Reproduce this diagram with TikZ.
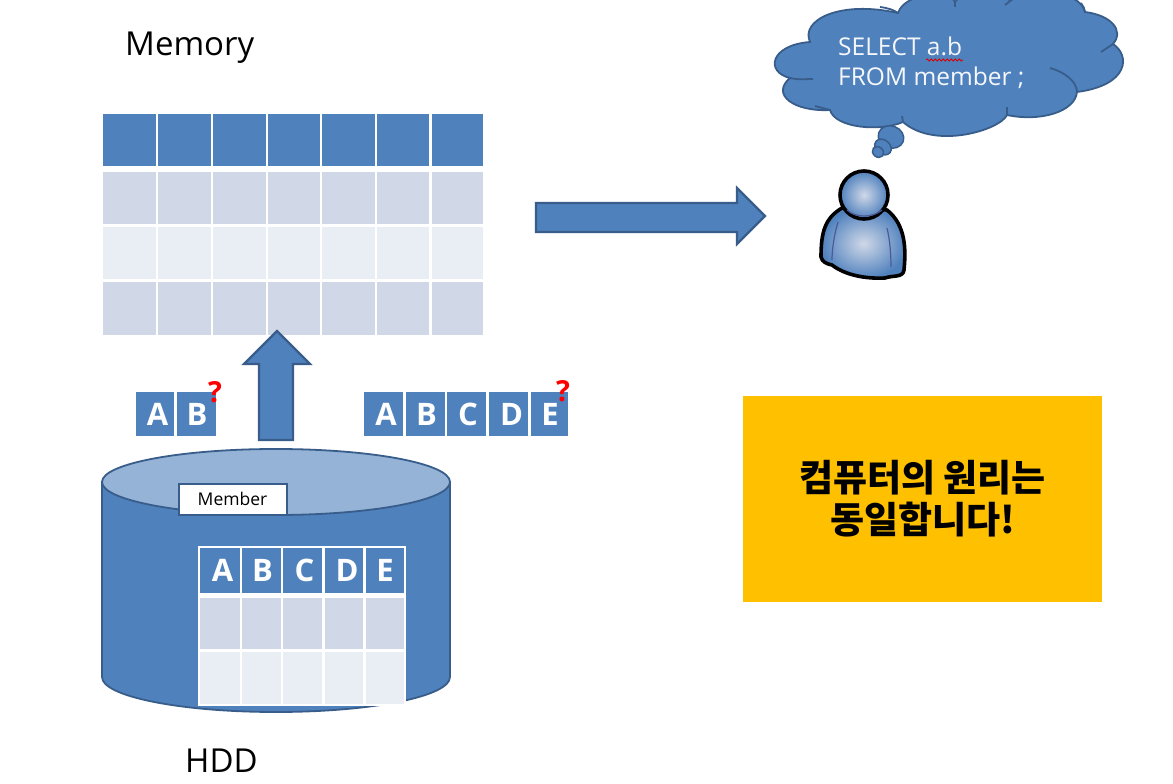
\documentclass[tikz,border=0pt]{standalone}
\usepackage{fontspec}
\setmainfont{Open Sans}
\newfontfamily\krfont{Noto Sans CJK KR}
\usetikzlibrary{decorations.pathmorphing}
\definecolor{hdr}{HTML}{4F81BD}
\definecolor{rowa}{HTML}{D0D8E8}
\definecolor{rowb}{HTML}{E9EDF4}
\definecolor{edgeblue}{HTML}{385D8A}
\definecolor{toplid}{HTML}{95B3D7}
\definecolor{gold}{HTML}{FFC000}
\definecolor{seam}{HTML}{4A5A9A}
\tikzset{
  gridcell/.style={inner sep=0pt,outer sep=0pt,font=\fontsize{31}{32}\selectfont\bfseries,text=white},
  blockarrow/.style={fill=hdr,draw=edgeblue,line width=2.2pt,line join=miter},
  puzzled/.style={inner sep=0pt,text=red,font=\fontsize{29}{29}\selectfont\bfseries},
  caption/.style={inner sep=0pt,anchor=base west,text=black,font=\fontsize{33}{33}\selectfont},
  fold/.style={draw=edgeblue,line width=1.8pt},
  inkline/.style={draw=black,line width=3.6pt,line join=round},
  seamline/.style={draw=seam,line width=1.2pt}
}
% name, colour, x1, x2, y1, y2, text
\newcommand{\gcell}[7]{\node[gridcell,fill=#2,minimum width={(#4-#3)*1pt},minimum height={(#6-#5)*1pt}] (#1) at ({(#3+#4)/2},{(#5+#6)/2}) {#7};}
\newcommand{\clab}[2]{\raisebox{-1.5pt}{\kern#1pt #2}}
\begin{document}
\begin{tikzpicture}[x=1pt,y=-1pt]
\useasboundingbox (0,0) rectangle (1173,784);
\fill[white] (0,0) rectangle (1173,784);

% memory table
\foreach \cname/\xa/\xb in {a/103/156,b/158/211,c/213/266,d/268/320,e/322/375,f/377/429,g/432/483}{
  \gcell{m1\cname}{hdr}{\xa}{\xb}{114}{166}{}
  \gcell{m2\cname}{rowa}{\xa}{\xb}{172}{224}{}
  \gcell{m3\cname}{rowb}{\xa}{\xb}{227}{279}{}
  \gcell{m4\cname}{rowa}{\xa}{\xb}{282}{335}{}
}
\node[caption] (memlabel) at (125,56) {Memory};

% block arrows
\draw[blockarrow] (536,203) -- (737,203) -- (737,188) -- (765,216) -- (737,244) -- (737,232) -- (536,232) -- cycle;
\draw[blockarrow] (259,440) -- (259,364) -- (244,364) -- (277,331) -- (310,364) -- (293,364) -- (293,440) -- cycle;

% floating columns
\gcell{pa}{hdr}{136}{174}{392}{436}{\clab{5}{A}}
\gcell{pb}{hdr}{177}{216}{392}{436}{\clab{1}{B}}
\gcell{qa}{hdr}{364}{403}{392}{436}{\clab{5}{A}}
\gcell{qb}{hdr}{406}{445}{392}{436}{\clab{2}{B}}
\gcell{qc}{hdr}{447}{486}{392}{436}{\clab{3}{C}}
\gcell{qd}{hdr}{489}{528}{392}{436}{\clab{6}{D}}
\gcell{qe}{hdr}{531}{568}{392}{436}{\clab{1}{E}}
\node[puzzled] (qm1) at (215,392) {?};
\node[puzzled] (qm2) at (563,391) {?};

% cylinder
\draw[fill=hdr,draw=edgeblue,line width=1.8pt] (102,482) -- (102,677) arc[start angle=180,end angle=0,x radius=174,y radius=35] -- (450,482) -- cycle;
\draw[fill=toplid,draw=edgeblue,line width=1.8pt] (276,482) ellipse[x radius=174,y radius=33];
\node[draw=edgeblue,fill=white,line width=2pt,minimum width=108pt,minimum height=31pt,inner sep=0pt,font=\fontsize{17.5}{18}\selectfont] (member) at (232.5,499) {Member};

% HDD table
\fill[white] (198,546) rectangle (406,706);
\foreach \cname/\xa/\xb/\lab/\kn in {a/200/240/A/5,b/242/281/B/2,c/283/322/C/4,d/325/363/D/6,e/366/404/E/0}{
  \gcell{h1\cname}{hdr}{\xa}{\xb}{548}{593}{\clab{\kn}{\lab}}
  \gcell{h2\cname}{rowa}{\xa}{\xb}{598}{649}{}
  \gcell{h3\cname}{rowb}{\xa}{\xb}{652}{704}{}
}
\node[caption] (hddlabel) at (185,772) {HDD};

% thought cloud
\draw[fill=hdr,draw=edgeblue,line width=1.8pt]
  (810,42) .. controls (800,20) and (840,0) .. (898,13)
  .. controls (905,-8) and (950,-10) .. (955,2)
  .. controls (965,-12) and (1005,-12) .. (1010,1)
  .. controls (1030,-14) and (1080,-10) .. (1085,12)
  .. controls (1110,15) and (1125,30) .. (1113,44)
  .. controls (1130,55) and (1130,85) .. (1077,92)
  .. controls (1075,112) and (1040,122) .. (1007,115)
  .. controls (1000,130) and (935,150) .. (903,122)
  .. controls (880,132) and (835,128) .. (830,110)
  .. controls (795,112) and (770,95) .. (790,78)
  .. controls (765,72) and (770,45) .. (810,42) -- cycle;
\draw[fold] (880,7) .. controls (888,8) and (894,10) .. (898,13);
\draw[fold] (955,2) -- (955,7);
\draw[fold] (1010,1) -- (1005,5);
\draw[fold] (1085,12) .. controls (1085,9) and (1083,6) .. (1081,3);
\draw[fold] (1113,44) -- (1101,52);
\draw[fold] (1050,68) .. controls (1065,72) and (1077,82) .. (1077,92);
\draw[fold] (1007,115) -- (1007,107);
\draw[fold] (903,122) -- (902,116);
\draw[fold] (830,110) -- (815,106);
\draw[fold] (790,78) .. controls (797,80) and (805,79) .. (813,79);
\draw[fill=hdr,draw=edgeblue,line width=1.5pt,rotate around={-20:(891,137)}] (891,137) ellipse[x radius=13,y radius=11];
\draw[fill=hdr,draw=edgeblue,line width=1.5pt,rotate around={-40:(883,147)}] (883,147) ellipse[x radius=9,y radius=7];
\draw[fill=hdr,draw=edgeblue,line width=1.5pt,rotate around={-40:(878,152)}] (878,152) ellipse[x radius=6,y radius=5];
\node[inner sep=0pt,anchor=base west,text=white!94!hdr,font=\fontsize{24.5}{30}\selectfont] (selectq) at (838,56) {SELECT a.b};
\node[inner sep=0pt,anchor=base west,text=white!94!hdr,font=\fontsize{24.5}{30}\selectfont] (fromq) at (838,85) {FROM member ;};
\draw[red!85!black,line width=.8pt,decorate,decoration={snake,segment length=4pt,amplitude=1pt}] (926,60) -- (963,60);

% person
\path[inkline,inner color=rowa,outer color=hdr]
  (842,208) .. controls (825,218) and (821,232) .. (821,257)
  .. controls (822,262) and (827,264) .. (832,265)
  .. controls (845,275) and (865,279) .. (885,278)
  .. controls (893,275) and (903,278) .. (904,270)
  .. controls (906,250) and (906,225) .. (887,210) -- cycle;
\draw[seamline] (838,222) .. controls (834,235) and (832,250) .. (832,260);
\draw[seamline] (887,228) .. controls (890,240) and (891,255) .. (891,267);
\path[inkline,inner color=rowa,outer color=hdr] (864,195) circle[radius=24];
\draw[seamline] (847,210) .. controls (855,218) and (873,218) .. (882,210);

% golden box
\node[fill=gold,minimum width=359pt,minimum height=206pt,inner sep=0pt,align=center,text=black,font=\krfont\fontsize{37}{42}\selectfont\bfseries] (note) at (922.5,499) {컴퓨터의 원리는\\동일합니다!};
\end{tikzpicture}
\end{document}
